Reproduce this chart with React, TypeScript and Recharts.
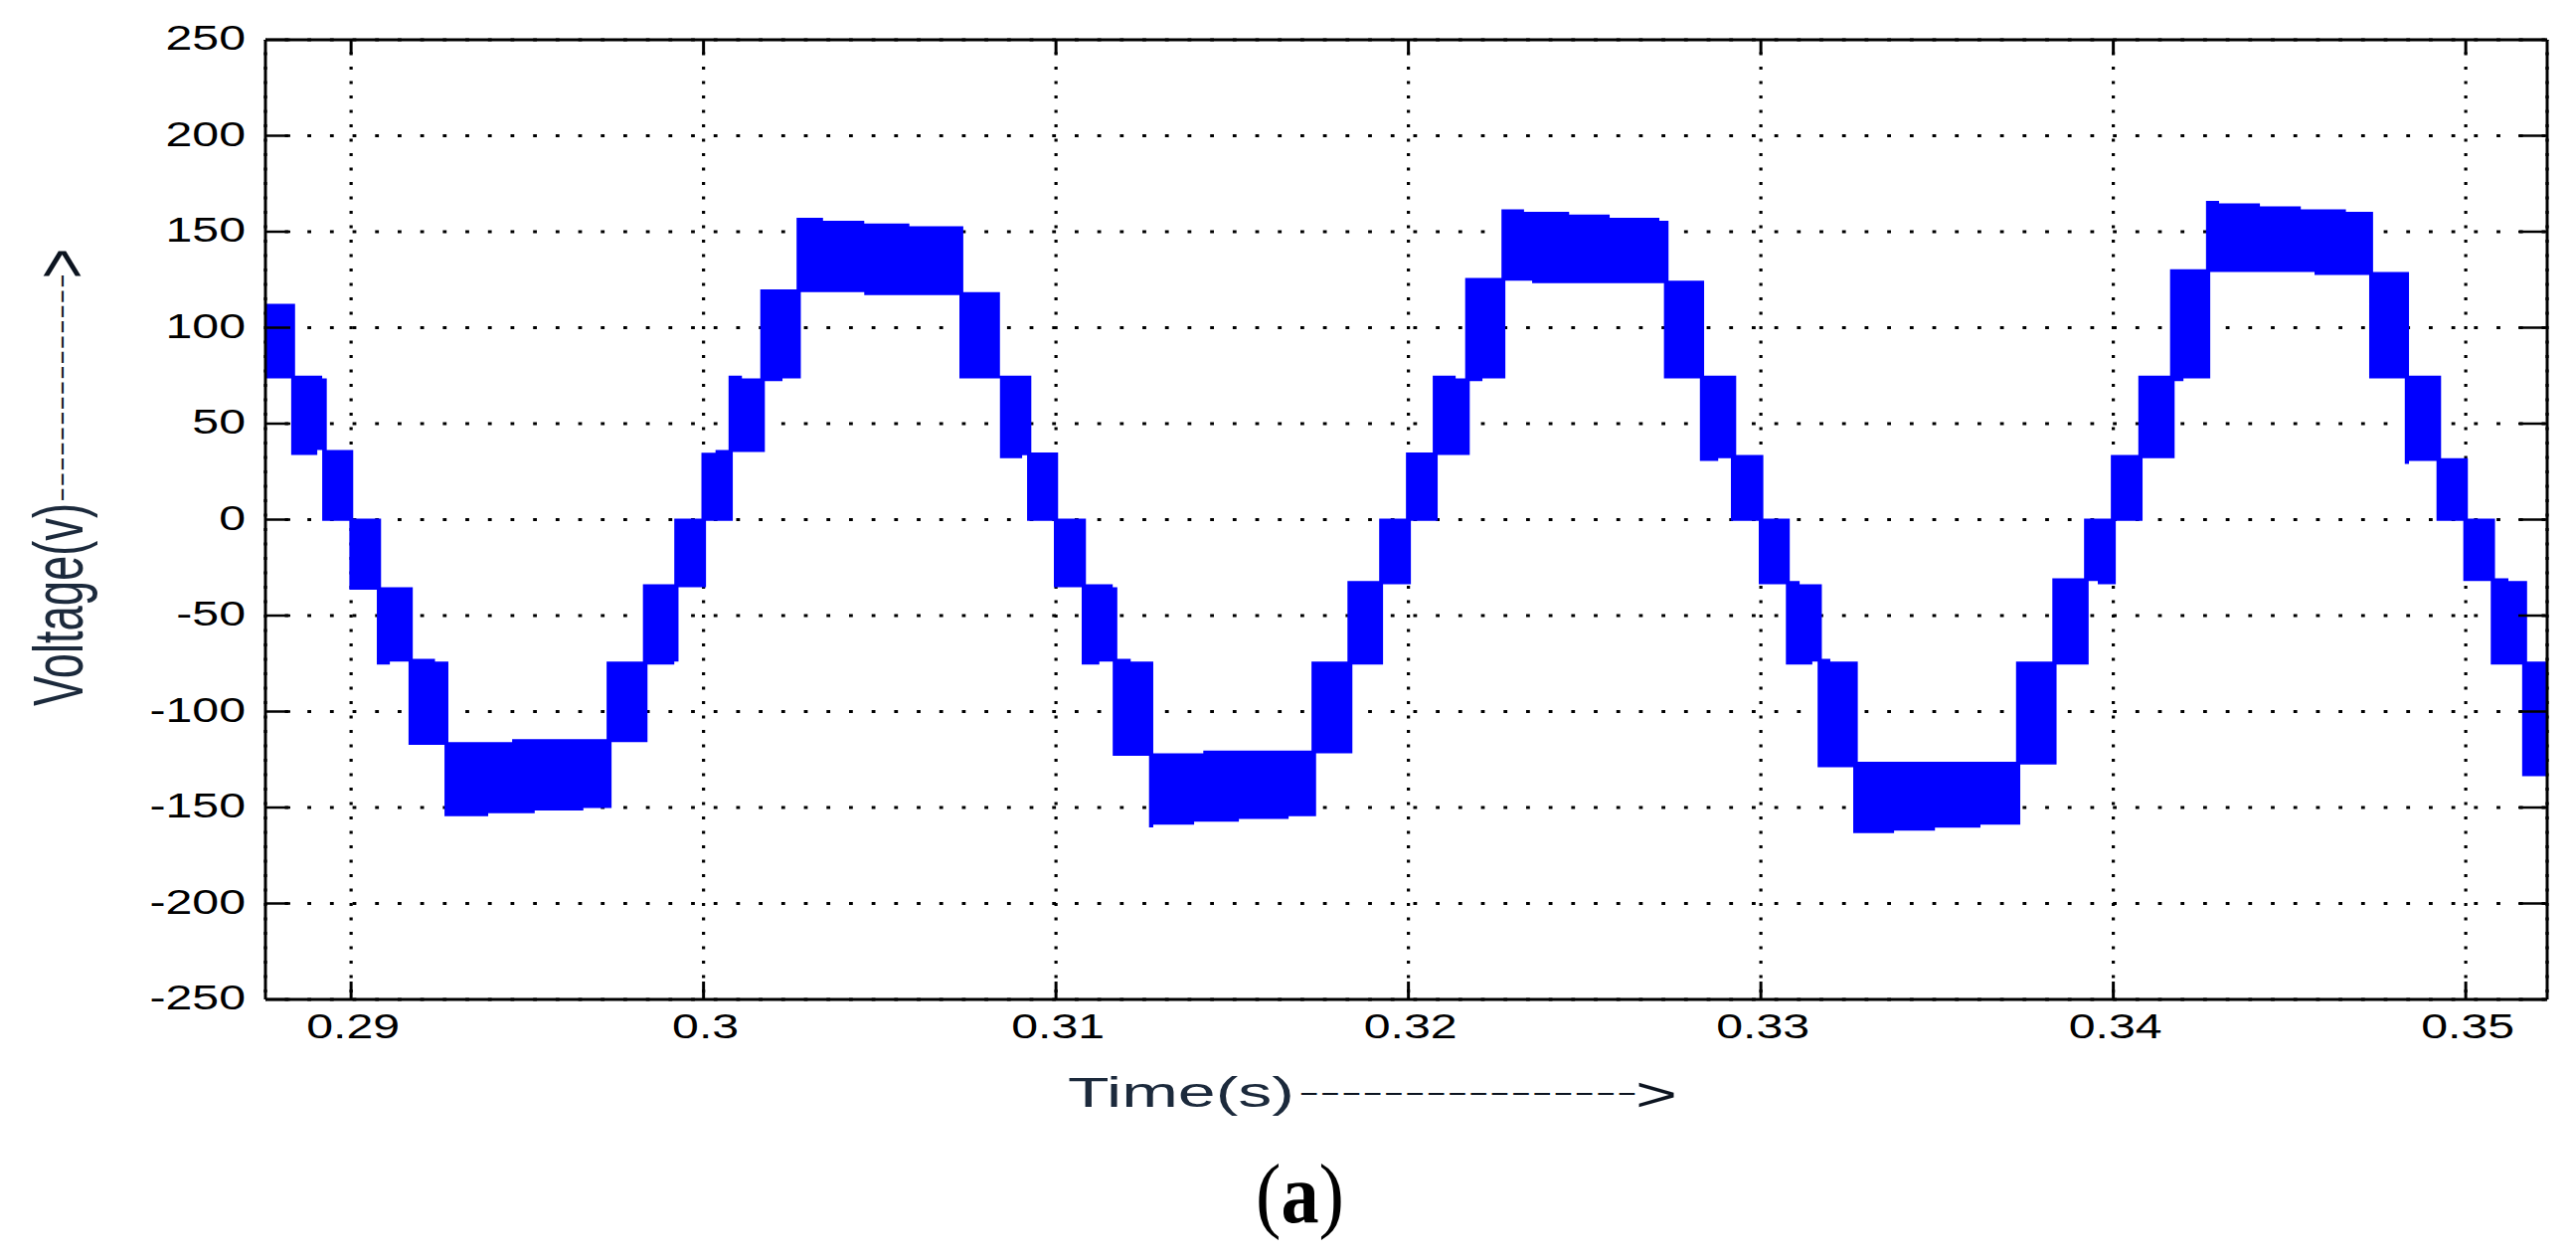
import { Area, CartesianGrid, ComposedChart, XAxis, YAxis } from 'recharts';

const xTicks = [0.29, 0.3, 0.31, 0.32, 0.33, 0.34, 0.35];
const yTicks = [-250, -200, -150, -100, -50, 0, 50, 100, 150, 200, 250];
const tStart = 0.28757;
const tEnd = 0.35231;

// top edge of the switching band: each value holds from its time to the next one
const upperTime = [
  0.28757, 0.28841, 0.28918, 0.28931, 0.29006, 0.29085, 0.29175, 0.29238, 0.29276, 0.29457, 0.29725,
  0.29828, 0.29917, 0.29994, 0.30034, 0.30071, 0.30109, 0.30161, 0.30264, 0.30339, 0.30456, 0.30584,
  0.30737, 0.30841, 0.3093, 0.31006, 0.31085, 0.31161, 0.31174, 0.31212, 0.31276, 0.31418, 0.31725,
  0.31827, 0.31917, 0.31993, 0.32069, 0.32134, 0.32161, 0.32264, 0.32328, 0.32456, 0.32571, 0.32712,
  0.32738, 0.32839, 0.3293, 0.33007, 0.33082, 0.3311, 0.33173, 0.33197, 0.33275, 0.33724, 0.33827,
  0.33917, 0.33993, 0.34071, 0.34161, 0.34263, 0.343, 0.34416, 0.34532, 0.3466, 0.34737, 0.34839,
  0.3493, 0.35006, 0.35083, 0.35121, 0.35174,
];
const upperVolt = [
  112.4, 75, 73.6, 36.3, 0.5, -35.2, -72.6, -74, -115.9, -114.4, -74,
  -33.7, 0.5, 34.8, 36.3, 75, 73.6, 120, 157.2, 155.7, 154.3, 152.8,
  118.5, 75, 35, 0.5, -33.7, -35.2, -72.6, -74, -121.8, -120.3, -74,
  -32, 0.5, 35, 75, 73.6, 125.9, 161.7, 160.4, 158.9, 157.2, 155.7,
  124.5, 75, 33.7, 0.5, -32, -33.7, -72.6, -74, -126.2, -74, -30.6,
  0.5, 33.7, 75, 130.4, 166, 164.8, 163.2, 161.7, 160.4, 129, 75,
  32, 0.5, -30.6, -32, -74,
];

// bottom edge of the band
const lowerTime = [
  0.28757, 0.2883, 0.28904, 0.28918, 0.28995, 0.29073, 0.2911, 0.29163, 0.29265, 0.29389, 0.29521,
  0.29659, 0.29739, 0.29841, 0.29917, 0.29929, 0.30007, 0.30083, 0.30174, 0.30224, 0.30276, 0.30456,
  0.30726, 0.30841, 0.30904, 0.30918, 0.30994, 0.31073, 0.31123, 0.31161, 0.31264, 0.31276, 0.31392,
  0.31519, 0.3166, 0.31738, 0.31841, 0.31928, 0.32007, 0.32083, 0.32174, 0.3221, 0.32275, 0.32351,
  0.32725, 0.32827, 0.32879, 0.32915, 0.32994, 0.33071, 0.33146, 0.33161, 0.33262, 0.33378, 0.33494,
  0.33623, 0.33736, 0.33839, 0.3393, 0.33956, 0.34007, 0.34083, 0.34174, 0.34199, 0.34275, 0.34571,
  0.34726, 0.34827, 0.34839, 0.34917, 0.34993, 0.35071, 0.3516,
];
const lowerVolt = [
  73.6, 33.7, 36.3, -0.7, -36.5, -75.5, -74, -117.3, -154.5, -153, -151.6,
  -150.2, -115.9, -75.5, -74, -35.2, -0.7, 35.2, 72.2, 73.6, 118.5, 117,
  73.6, 32, 33.5, -0.7, -35.2, -75.5, -74, -123, -160.3, -158.9, -157.4,
  -156, -154.5, -121.8, -75.5, -33.7, -0.7, 33.7, 72.2, 73.6, 124.5, 123.2,
  73.6, 30.6, 32, -0.7, -33.7, -75.5, -74, -129, -163.4, -162, -160.5,
  -159, -127.6, -75.5, -32, -33.7, -0.7, 32, 72.2, 73.6, 129, 127.4,
  73.6, 29, 30.6, -0.7, -32, -75.5, -133.7,
];

const stepValue = (times: number[], values: number[], t: number) => {
  let i = 0;
  while (i + 1 < times.length && times[i + 1] <= t) i++;
  return values[i];
};

const allTimes = [...new Set([...upperTime, ...lowerTime, tEnd])].sort((a, b) => a - b);
const chartData = allTimes.map((t) => ({
  t,
  band: [stepValue(lowerTime, lowerVolt, t), stepValue(upperTime, upperVolt, t)],
}));

const labelFont = '"Liberation Sans", Arial, sans-serif';
const ink = '#000';
const titleInk = '#1c2a3c';
const arrowInk = '#0c1420';

const BottomTick = ({ x, y, payload }: any) => (
  <g>
    <line x1={x} x2={x} y1={y} y2={y - 18} stroke={ink} strokeWidth={3} />
    <text
      transform={`translate(${x + 2},${y + 39}) scale(1.34,1)`}
      textAnchor="middle"
      fontFamily={labelFont}
      fontSize={36}
      fill={ink}
    >
      {String(payload.value)}
    </text>
  </g>
);

const TopTick = ({ x, y }: any) => <line x1={x} x2={x} y1={y} y2={y + 14} stroke={ink} strokeWidth={3} />;

const LeftTick = ({ x, y, payload }: any) => (
  <g>
    <line x1={x} x2={x + 25} y1={y} y2={y} stroke={ink} strokeWidth={2.5} />
    <text
      transform={`translate(${x - 20},${y + 10}) scale(1.34,1)`}
      textAnchor="end"
      fontFamily={labelFont}
      fontSize={36}
      fill={ink}
    >
      {String(payload.value)}
    </text>
  </g>
);

const RightTick = ({ x, y }: any) => <line x1={x} x2={x - 29} y1={y} y2={y} stroke={ink} strokeWidth={2.5} />;

export default function App() {
  return (
    <div style={{ position: 'absolute', left: 0, top: 0, width: 2591, height: 1266, background: '#fff' }}>
      <ComposedChart
        width={2591}
        height={1266}
        data={chartData}
        margin={{ top: 39, right: 28, bottom: 201, left: 207 }}
      >
        <CartesianGrid
          horizontal={false}
          stroke={ink}
          strokeWidth={3.2}
          strokeDasharray="3 11.5"
          strokeDashoffset={-12.5}
        />
        <CartesianGrid
          vertical={false}
          stroke={ink}
          strokeWidth={3}
          strokeDasharray="3.8 18.9"
          strokeDashoffset={-19.5}
        />
        <XAxis
          dataKey="t"
          type="number"
          domain={[tStart, tEnd]}
          ticks={xTicks}
          interval={0}
          allowDataOverflow
          height={60}
          tickSize={0}
          tickMargin={0}
          tickLine={false}
          tick={BottomTick}
          axisLine={{ stroke: ink, strokeWidth: 3 }}
        />
        <XAxis
          xAxisId="top"
          orientation="top"
          dataKey="t"
          type="number"
          domain={[tStart, tEnd]}
          ticks={xTicks}
          interval={0}
          allowDataOverflow
          height={1}
          tickSize={0}
          tickMargin={0}
          tickLine={false}
          tick={TopTick}
          axisLine={{ stroke: ink, strokeWidth: 3 }}
        />
        <YAxis
          type="number"
          domain={[-250, 250]}
          ticks={yTicks}
          interval={0}
          allowDataOverflow
          width={60}
          tickSize={0}
          tickMargin={0}
          tickLine={false}
          tick={LeftTick}
          axisLine={{ stroke: ink, strokeWidth: 3 }}
        />
        <YAxis
          yAxisId="right"
          orientation="right"
          type="number"
          domain={[-250, 250]}
          ticks={yTicks}
          interval={0}
          allowDataOverflow
          width={1}
          tickSize={0}
          tickMargin={0}
          tickLine={false}
          tick={RightTick}
          axisLine={{ stroke: ink, strokeWidth: 3 }}
        />
        <Area
          dataKey="band"
          type="stepAfter"
          fill="#0000ff"
          fillOpacity={1}
          stroke="none"
          dot={false}
          activeDot={false}
          isAnimationActive={false}
        />
        <text x={1074} y={1113} fontFamily={labelFont} fontSize={43} fill={titleInk} textLength={228} lengthAdjust="spacingAndGlyphs">
          Time(s)
        </text>
        <text x={1306} y={1107} fontFamily={labelFont} fontSize={26} fill={arrowInk} textLength={341} lengthAdjust="spacingAndGlyphs">
          {'----------------'}
        </text>
        <text x={1645} y={1117} fontFamily={labelFont} fontSize={48} fill={arrowInk} textLength={42} lengthAdjust="spacingAndGlyphs">
          {'>'}
        </text>
        <text transform="translate(83,710) rotate(-90)" fontFamily={labelFont} fontSize={70} fill={titleInk} textLength={204} lengthAdjust="spacingAndGlyphs">
          Voltage(v)
        </text>
        <text transform="translate(69.5,505) rotate(-90)" fontFamily={labelFont} fontSize={26} fill={arrowInk} textLength={230} lengthAdjust="spacingAndGlyphs">
          {'---------------'}
        </text>
        <text transform="translate(86.5,280) rotate(-90)" fontFamily={labelFont} fontSize={74} fill={arrowInk} textLength={30} lengthAdjust="spacingAndGlyphs">
          {'>'}
        </text>
        <text x={1263} y={1229} fontFamily='"Liberation Serif", serif' fontSize={85} fill="#000" textLength={89} lengthAdjust="spacingAndGlyphs">
          (<tspan fontWeight="bold">a</tspan>)
        </text>
      </ComposedChart>
    </div>
  );
}
